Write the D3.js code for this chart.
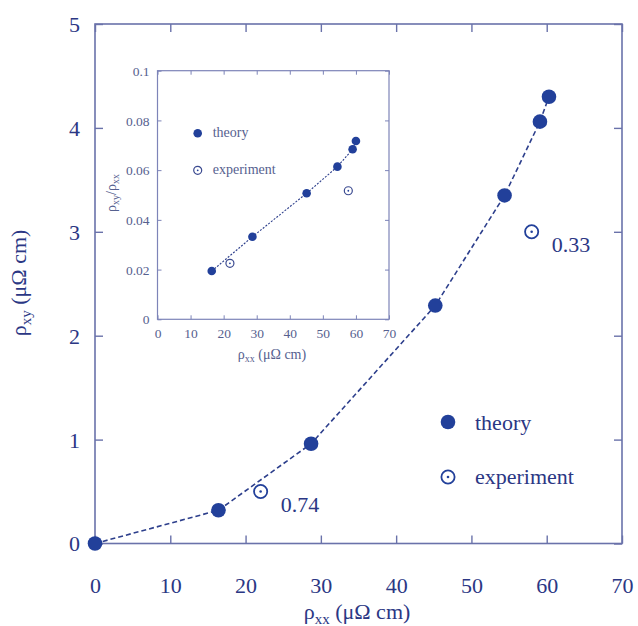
<!DOCTYPE html>
<html><head><meta charset="utf-8">
<script src="https://cdn.jsdelivr.net/npm/d3@7"></script>
</head><body style="margin:0"><svg id="c" width="638" height="626" style="display:block" font-family="Liberation Serif"></svg>
<script>
// Main panel data
const theoryRhoXX = [0, 16.4, 28.7, 45.2, 54.4, 59.1, 60.3];
const theoryRhoXY = [0, 0.32, 0.96, 2.29, 3.35, 4.06, 4.30];
const expRhoXX = [22.0, 58.0];
const expRhoXY = [0.50, 3.00];
const expLabels = ["0.74", "0.33"];
const mainXTicks = [0, 10, 20, 30, 40, 50, 60, 70];
const mainYTicks = [0, 1, 2, 3, 4, 5];
// Inset data
const insetTheoryX = [16.4, 28.7, 45.1, 54.4, 59.0, 60.0];
const insetTheoryRatio = [0.0194, 0.0332, 0.0507, 0.0614, 0.0684, 0.0717];
const insetExpX = [21.9, 57.7];
const insetExpRatio = [0.0225, 0.0517];
const insetXTicks = [0, 10, 20, 30, 40, 50, 60, 70];
const insetYTicks = [0, 0.02, 0.04, 0.06, 0.08, 0.1];
const legendLabels = ["theory", "experiment"];

const fonts = ["Liberation Serif"];
const svg = d3.select("#c");
const dark = "#22409a", textC = "#2b3784", axisC = "#6a72aa", insetAxisC = "#7d84b8", insetText = "#56618f";

// ---------- main panel ----------
const x = d3.scaleLinear().domain([0, 70]).range([95, 622]);
const y = d3.scaleLinear().domain([0, 5]).range([543.5, 24]);
const g = svg.append("g");
g.append("rect").attr("x", 95).attr("y", 24).attr("width", 527).attr("height", 519.5)
  .attr("fill", "none").attr("stroke", axisC).attr("stroke-width", 1.6);
function styleAxis(sel, col, sw) {
  sel.attr("font-family", fonts[0]);
  sel.select(".domain").remove();
  sel.selectAll(".tick line").attr("stroke", col).attr("stroke-width", sw);
}
const tl = 8;
g.append("g").attr("transform", "translate(0,543.5)")
  .call(d3.axisBottom(x).tickValues(mainXTicks).tickSize(-tl).tickPadding(0).tickFormat(d3.format("d")))
  .call(s => { styleAxis(s, axisC, 1.4); s.selectAll("text").attr("y", 34).attr("font-size", 22).attr("fill", textC); });
g.append("g").attr("transform", "translate(0,24)")
  .call(d3.axisTop(x).tickValues(mainXTicks).tickSize(-tl).tickFormat(""))
  .call(s => styleAxis(s, axisC, 1.4));
g.append("g").attr("transform", "translate(95,0)")
  .call(d3.axisLeft(y).tickValues(mainYTicks).tickSize(-tl).tickFormat(d3.format("d")))
  .call(s => { styleAxis(s, axisC, 1.4); s.selectAll("text").attr("x", -15).attr("dy", "0.34em").attr("font-size", 22).attr("fill", textC); });
g.append("g").attr("transform", "translate(622,0)")
  .call(d3.axisRight(y).tickValues(mainYTicks).tickSize(-tl).tickFormat(""))
  .call(s => styleAxis(s, axisC, 1.4));

// axis titles
const xt = g.append("text").attr("x", 357).attr("y", 619).attr("text-anchor", "middle").attr("font-size", 22).attr("fill", textC);
xt.append("tspan").text("ρ");
xt.append("tspan").attr("dy", 5).attr("font-size", 15).text("xx");
xt.append("tspan").attr("dy", -5).text(" (μΩ cm)");
const yt = g.append("text").attr("transform", "translate(26,283) rotate(-90)").attr("text-anchor", "middle").attr("font-size", 22).attr("fill", textC);
yt.append("tspan").text("ρ");
yt.append("tspan").attr("dy", 5).attr("font-size", 15).text("xy");
yt.append("tspan").attr("dy", -5).text(" (μΩ cm)");

const theory = theoryRhoXX.map((v, i) => [v, theoryRhoXY[i]]);
g.append("path").datum(theory)
  .attr("d", d3.line().x(d => x(d[0])).y(d => y(d[1])))
  .attr("fill", "none").attr("stroke", "#2d3f8c").attr("stroke-width", 1.6).attr("stroke-dasharray", "5,3");
g.selectAll(".tp").data(theory).join("circle")
  .attr("cx", d => x(d[0])).attr("cy", d => y(d[1])).attr("r", 7.3).attr("fill", dark);
const exp = expRhoXX.map((v, i) => ({x: v, y: expRhoXY[i], l: expLabels[i]}));
g.selectAll(".ep").data(exp).join("circle")
  .attr("cx", d => x(d.x)).attr("cy", d => y(d.y)).attr("r", 6.6).attr("fill", "#fff").attr("stroke", dark).attr("stroke-width", 1.8);
g.selectAll(".ed").data(exp).join("circle")
  .attr("cx", d => x(d.x)).attr("cy", d => y(d.y)).attr("r", 1.3).attr("fill", dark);
g.selectAll(".el").data(exp).join("text")
  .attr("x", d => x(d.x) + 20).attr("y", d => y(d.y) + 20).attr("font-size", 22).attr("fill", textC).text(d => d.l);

// main legend
const lg = g.append("g").attr("transform", "translate(448,422)");
lg.append("circle").attr("r", 7.3).attr("fill", dark);
lg.append("text").attr("x", 27).attr("y", 8).attr("font-size", 22).attr("fill", textC).text(legendLabels[0]);
lg.append("circle").attr("cy", 55).attr("r", 6.6).attr("fill", "#fff").attr("stroke", dark).attr("stroke-width", 1.8);
lg.append("circle").attr("cy", 55).attr("r", 1.3).attr("fill", dark);
lg.append("text").attr("x", 27).attr("y", 62).attr("font-size", 22).attr("fill", textC).text(legendLabels[1]);

// ---------- inset ----------
const ix = d3.scaleLinear().domain([0, 70]).range([157.5, 389]);
const iy = d3.scaleLinear().domain([0, 0.1]).range([319.3, 70.7]);
const ig = svg.append("g");
ig.append("rect").attr("x", 157.5).attr("y", 70.7).attr("width", 231.5).attr("height", 248.6)
  .attr("fill", "#fff").attr("stroke", insetAxisC).attr("stroke-width", 1.2);
const itl = 4;
ig.append("g").attr("transform", "translate(0,319.3)")
  .call(d3.axisBottom(ix).tickValues(insetXTicks).tickSize(-itl).tickFormat(d3.format("d")))
  .call(s => { styleAxis(s, insetAxisC, 1); s.selectAll("text").attr("y", 9).attr("font-size", 13.5).attr("fill", insetText); });
ig.append("g").attr("transform", "translate(0,70.7)")
  .call(d3.axisTop(ix).tickValues(insetXTicks).tickSize(-itl).tickFormat(""))
  .call(s => styleAxis(s, insetAxisC, 1));
ig.append("g").attr("transform", "translate(157.5,0)")
  .call(d3.axisLeft(iy).tickValues(insetYTicks).tickSize(-itl).tickFormat(d => d === 0 ? "0" : String(+d.toFixed(2))))
  .call(s => { styleAxis(s, insetAxisC, 1); s.selectAll("text").attr("x", -8).attr("dy", "0.34em").attr("font-size", 13.5).attr("fill", insetText); });
ig.append("g").attr("transform", "translate(389,0)")
  .call(d3.axisRight(iy).tickValues(insetYTicks).tickSize(-itl).tickFormat(""))
  .call(s => styleAxis(s, insetAxisC, 1));

const ixt = ig.append("text").attr("x", 272).attr("y", 359).attr("text-anchor", "middle").attr("font-size", 14).attr("fill", insetText);
ixt.append("tspan").text("ρ");
ixt.append("tspan").attr("dy", 3).attr("font-size", 10).text("xx");
ixt.append("tspan").attr("dy", -3).text(" (μΩ cm)");
const iyt = ig.append("text").attr("transform", "translate(116,193) rotate(-90)").attr("text-anchor", "middle").attr("font-size", 14).attr("fill", insetText);
iyt.append("tspan").text("ρ");
iyt.append("tspan").attr("dy", 3).attr("font-size", 10).text("xy");
iyt.append("tspan").attr("dy", -3).text("/ρ");
iyt.append("tspan").attr("dy", 3).attr("font-size", 10).text("xx");

const iTheory = insetTheoryX.map((v, i) => [v, insetTheoryRatio[i]]);
ig.append("path").datum(iTheory)
  .attr("d", d3.line().x(d => ix(d[0])).y(d => iy(d[1])))
  .attr("fill", "none").attr("stroke", "#2d3f8c").attr("stroke-width", 1.1).attr("stroke-dasharray", "2,1.5");
ig.selectAll(".itp").data(iTheory).join("circle")
  .attr("cx", d => ix(d[0])).attr("cy", d => iy(d[1])).attr("r", 4.3).attr("fill", dark);
const iExp = insetExpX.map((v, i) => [v, insetExpRatio[i]]);
ig.selectAll(".iep").data(iExp).join("circle")
  .attr("cx", d => ix(d[0])).attr("cy", d => iy(d[1])).attr("r", 4).attr("fill", "#fff").attr("stroke", "#3b4a90").attr("stroke-width", 1.2);
ig.selectAll(".ied").data(iExp).join("circle")
  .attr("cx", d => ix(d[0])).attr("cy", d => iy(d[1])).attr("r", 0.9).attr("fill", dark);

const ilg = ig.append("g").attr("transform", "translate(197.7,133.3)");
ilg.append("circle").attr("r", 4.3).attr("fill", dark);
ilg.append("text").attr("x", 15).attr("y", 4).attr("font-size", 14).attr("fill", insetText).text(legendLabels[0]);
ilg.append("circle").attr("cy", 37).attr("r", 4).attr("fill", "#fff").attr("stroke", "#3b4a90").attr("stroke-width", 1.2);
ilg.append("circle").attr("cy", 37).attr("r", 0.9).attr("fill", dark);
ilg.append("text").attr("x", 15).attr("y", 41).attr("font-size", 14).attr("fill", insetText).text(legendLabels[1]);

svg.selectAll("text").attr("font-family", d => fonts[0]);
</script></body></html>
